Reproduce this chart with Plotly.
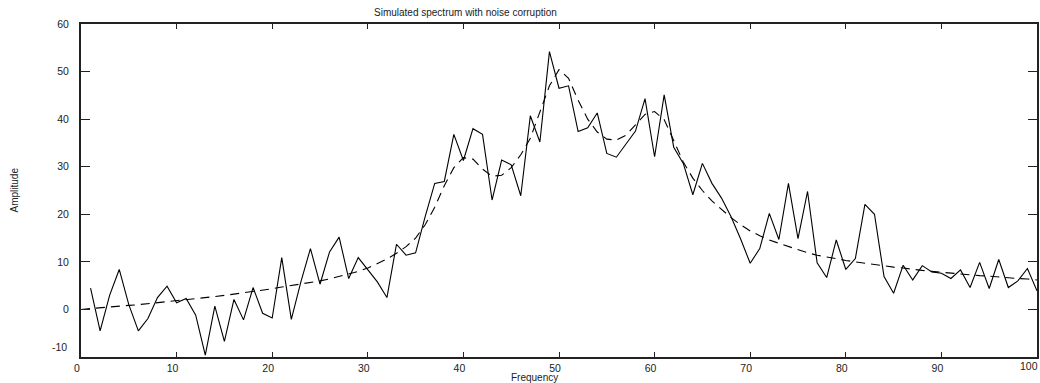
import plotly.graph_objects as go

freq = list(range(1, 101))
noisy = [4.5, -4.5, 3.0, 8.4, 1.0, -4.5, -1.9, 2.5, 4.9, 1.4,
         2.3, -1.2, -9.6, 0.7, -6.7, 2.1, -2.2, 4.6, -0.8, -1.8,
         10.9, -2.1, 5.8, 12.8, 5.3, 12.1, 15.2, 6.5, 10.9, 8.4,
         5.8, 2.5, 13.7, 11.4, 11.9, 19.5, 26.5, 26.9, 36.8, 31.3,
         38.0, 36.8, 23.0, 31.4, 30.4, 23.9, 40.7, 35.2, 54.2, 46.5,
         47.0, 37.4, 38.2, 41.3, 32.8, 32.0, 34.8, 37.5, 44.3, 32.1,
         45.1, 34.1, 30.7, 24.1, 30.7, 26.5, 23.4, 19.5, 14.8, 9.7,
         12.8, 20.2, 14.7, 26.5, 14.9, 24.8, 9.8, 6.7, 14.6, 8.4,
         10.7, 22.1, 20.0, 6.9, 3.4, 9.3, 6.2, 9.2, 7.9, 7.6,
         6.5, 8.3, 4.6, 9.9, 4.4, 10.5, 4.6, 6.0, 8.6, 3.9]

model_freq = list(range(0, 101))
model = [0.0, 0.2, 0.4, 0.55, 0.7, 0.85, 1.0, 1.2, 1.35, 1.55,
         1.75, 2.0, 2.2, 2.45, 2.7, 2.95, 3.2, 3.5, 3.8, 4.1,
         4.35, 4.7, 5.0, 5.35, 5.7, 6.0, 6.4, 6.9, 7.4, 8.0,
         8.7, 9.6, 10.6, 11.8, 13.2, 15.0, 17.8, 21.5, 26.0, 29.8,
         31.9, 31.6, 29.5, 28.0, 28.2, 29.8, 32.5, 36.0, 41.5, 47.0,
         50.4, 48.6, 44.0, 40.0, 37.3, 35.8, 35.6, 36.6, 38.8, 41.0,
         41.6, 39.9, 35.5, 31.0, 27.6, 25.0, 22.8, 21.0, 19.3, 17.8,
         16.5, 15.5, 14.6, 13.9, 13.2, 12.5, 11.9, 11.4, 11.0, 10.6,
         10.3, 10.0, 9.7, 9.4, 9.1, 8.9, 8.7, 8.4, 8.2, 8.0,
         7.8, 7.6, 7.5, 7.3, 7.1, 7.0, 6.8, 6.7, 6.5, 6.4, 6.2]

x_ticks = [0, 10, 20, 30, 40, 50, 60, 70, 80, 90, 100]
x_tick_text = ["0", "10", "20", "30", "40", "50", "60", "70", "80", "90", ""]
y_ticks = [-10, 0, 10, 20, 30, 40, 50, 60]
y_tick_text = ["", "0", "10", "20", "30", "40", "50", "60"]

font = "Liberation Sans, Arial, sans-serif"

fig = go.Figure()
fig.add_trace(go.Scatter(x=freq, y=noisy, mode="lines",
                         line=dict(color="black", width=1.1), showlegend=False))
fig.add_trace(go.Scatter(x=model_freq, y=model, mode="lines",
                         line=dict(color="black", width=1.1, dash="9px,6px"), showlegend=False))

fig.update_layout(
    width=1040, height=383,
    margin=dict(l=81, r=3, t=24, b=26),
    paper_bgcolor="white", plot_bgcolor="white",
    font=dict(family=font, size=10, color="#222"),
    xaxis=dict(range=[0, 100], tickvals=x_ticks, ticktext=x_tick_text,
               ticks="inside", ticklen=5,
               tickcolor="#222", showline=True, linecolor="#222", linewidth=2,
               mirror="ticks", showgrid=False, zeroline=False, automargin=False,
               ticklabelshift=-4, ticklabelstandoff=0, ticklabeloverflow="allow",
               tickfont=dict(size=10.5)),
    yaxis=dict(range=[-10, 60], tickvals=y_ticks, ticktext=y_tick_text,
               ticks="inside", ticklen=9, tickcolor="#222", showline=True,
               linecolor="#222", linewidth=2, mirror="ticks", showgrid=False,
               zeroline=False, automargin=False, tickfont=dict(size=10.5),
               ticklabelstandoff=8),
    annotations=[
        dict(text="Simulated spectrum with noise corruption", x=0.4017, y=1,
             xref="paper", yref="paper", xanchor="center", yanchor="bottom",
             yshift=4, showarrow=False, font=dict(size=10, color="#222")),
        dict(text="Frequency", x=0.474, y=0, xref="paper", yref="paper",
             xanchor="center", yanchor="top", yshift=-13, showarrow=False,
             font=dict(size=10, color="#222")),
        dict(text="Amplitude", x=0, y=0.5, xref="paper", yref="paper",
             xanchor="center", yanchor="middle", xshift=-67, textangle=-90,
             showarrow=False, font=dict(size=10, color="#222")),
        dict(text="-10", x=0, y=y_ticks[0], xref="paper", yref="y",
             xanchor="right", yanchor="middle", xshift=-12, yshift=10,
             showarrow=False, font=dict(size=10.5, color="#222")),
        dict(text="100", x=x_ticks[-1], y=0, xref="x", yref="paper",
             xanchor="right", yanchor="top", xshift=3, yshift=-1,
             showarrow=False, font=dict(size=10.5, color="#222")),
    ],
)

fig.write_html("out.html", config={"displayModeBar": False},
               post_script="document.body.style.margin='0px';document.body.style.overflow='hidden';")
